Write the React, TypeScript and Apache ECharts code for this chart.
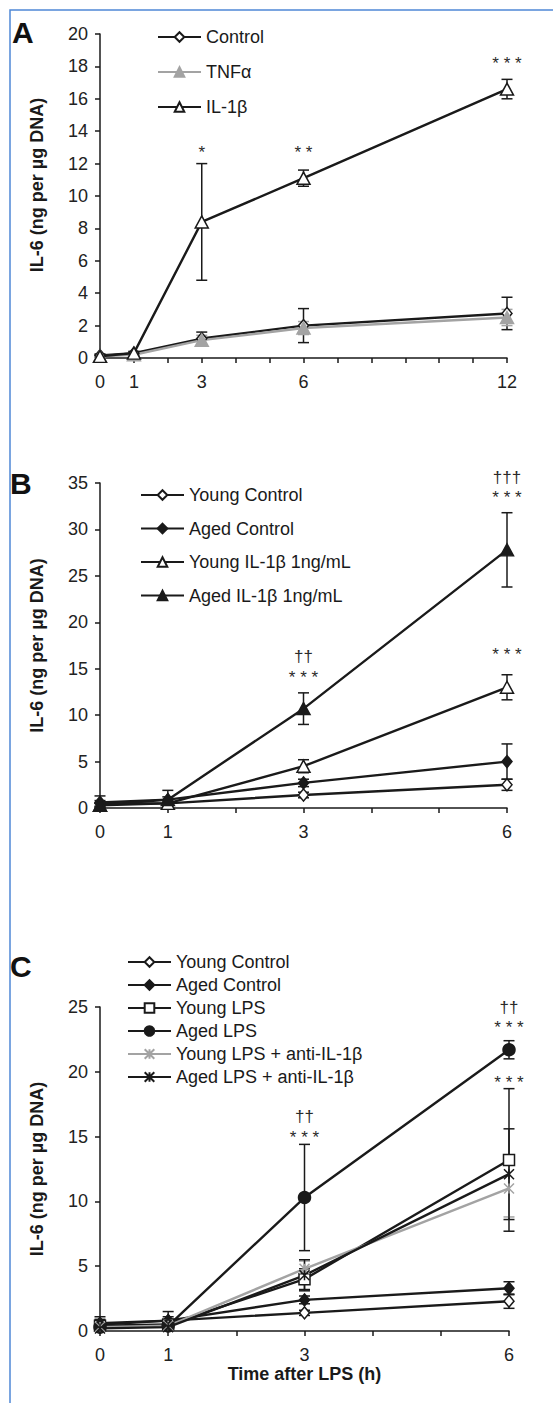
import React, { useEffect, useRef } from "react";
import * as echarts from "echarts";

// ---------- Data ----------
// Panel A
const hoursA = [0, 1, 3, 6, 12];
const labelsA = [0, 1, 3, 6, 12];
const controlA = [0.15, 0.3, 1.2, 2.0, 2.75];
const controlAErr = [0.1, 0.1, 0.4, 1.05, 1.0];
const tnfA = [0.1, 0.2, 1.1, 1.85, 2.5];
const tnfAErr = [0.05, 0.1, 0.3, 0.4, 0.5];
const il1bA = [0.1, 0.3, 8.4, 11.1, 16.6];
const il1bAErr = [0.1, 0.1, 3.6, 0.5, 0.6];
const annA = [
  { x: 3, y: 12.7, t: "*" },
  { x: 6, y: 12.7, t: "* *" },
  { x: 12, y: 18.2, t: "* * *" },
];

// Panel B
const hoursB = [0, 1, 3, 6];
const labelsB = [0, 1, 3, 6];
const youngCtrlB = [0.5, 0.5, 1.4, 2.5];
const youngCtrlBErr = [0.3, 0.2, 0.3, 0.6];
const agedCtrlB = [0.6, 0.9, 2.7, 5.0];
const agedCtrlBErr = [0.7, 1.0, 0.4, 1.9];
const youngIL1bB = [0.3, 0.5, 4.5, 13.0];
const youngIL1bBErr = [0.2, 0.3, 0.7, 1.35];
const agedIL1bB = [0.3, 0.9, 10.7, 27.8];
const agedIL1bBErr = [0.2, 0.3, 1.7, 4.0];
const annB = [
  { x: 3, y: 16.3, t: "††" },
  { x: 3, y: 14.1, t: "* * *" },
  { x: 6, y: 35.6, t: "†††" },
  { x: 6, y: 33.4, t: "* * *" },
  { x: 6, y: 16.5, t: "* * *" },
];

// Panel C
const hoursC = [0, 1, 3, 6];
const labelsC = [0, 1, 3, 6];
const youngCtrlC = [0.6, 0.8, 1.4, 2.3];
const youngCtrlCErr = [0.3, 0.3, 0.2, 0.55];
const agedCtrlC = [0.5, 0.8, 2.4, 3.3];
const agedCtrlCErr = [0.6, 0.7, 0.3, 0.5];
const youngLpsC = [0.4, 0.5, 4.0, 13.2];
const youngLpsCErr = [0.2, 0.2, 0.8, 5.5];
const agedLpsC = [0.3, 0.4, 10.3, 21.7];
const agedLpsCErr = [0.2, 0.3, 4.1, 0.7];
const youngAntiC = [0.3, 0.4, 4.8, 11.0];
const youngAntiCErr = [0.2, 0.2, 0.6, 2.2];
const agedAntiC = [0.2, 0.3, 4.3, 12.1];
const agedAntiCErr = [0.1, 0.2, 1.2, 3.5];
const annC = [
  { x: 3, y: 16.55, t: "††" },
  { x: 3, y: 14.95, t: "* * *" },
  { x: 6, y: 25.0, t: "††" },
  { x: 6, y: 23.4, t: "* * *" },
  { x: 6, y: 19.2, t: "* * *" },
];

// ---------- Styles ----------
const FONT = '"Liberation Sans", Arial, sans-serif';
const BLACK = "#1a1a1a";
const GRAY = "#a3a3a3";
const STAR = "path://M0,0L10,10M10,0L0,10M5,0L5,10";

type Mk = { symbol: string; size: number | number[]; fill: string; stroke: string; line: string };
const openDiamond: Mk = { symbol: "diamond", size: [10, 12], fill: "#fff", stroke: BLACK, line: BLACK };
const fillDiamond: Mk = { symbol: "diamond", size: [10, 12], fill: BLACK, stroke: BLACK, line: BLACK };
const openTri: Mk = { symbol: "triangle", size: [13, 12], fill: "#fff", stroke: BLACK, line: BLACK };
const fillTri: Mk = { symbol: "triangle", size: [13, 12], fill: BLACK, stroke: BLACK, line: BLACK };
const grayTri: Mk = { symbol: "triangle", size: [13, 12], fill: GRAY, stroke: GRAY, line: GRAY };
const openSquare: Mk = { symbol: "rect", size: [11, 11], fill: "#fff", stroke: BLACK, line: BLACK };
const fillCircle: Mk = { symbol: "circle", size: 12, fill: BLACK, stroke: BLACK, line: BLACK };
const grayStar: Mk = { symbol: STAR, size: 10, fill: GRAY, stroke: GRAY, line: GRAY };
const blackStar: Mk = { symbol: STAR, size: 10, fill: BLACK, stroke: BLACK, line: BLACK };

function lineSeries(name: string, idx: number, xs: number[], ys: number[], mk: Mk) {
  return {
    type: "line",
    name,
    xAxisIndex: idx,
    yAxisIndex: idx,
    data: xs.map((x, i) => [x, ys[i]]),
    symbol: mk.symbol,
    symbolSize: mk.size,
    showSymbol: true,
    z: 3,
    lineStyle: { color: mk.line, width: 2.4 },
    itemStyle: { color: mk.fill, borderColor: mk.stroke, borderWidth: 1.5 },
    emphasis: { disabled: true },
  };
}

function errSeries(idx: number, xs: number[], ys: number[], err: number[], color: string) {
  return {
    type: "custom",
    xAxisIndex: idx,
    yAxisIndex: idx,
    z: 2,
    silent: true,
    clip: false,
    encode: { x: 0, y: [1, 2] },
    data: xs.map((x, i) => [x, Math.max(0, ys[i] - err[i]), ys[i] + err[i]]),
    renderItem: (_p: any, api: any) => {
      const x = api.value(0);
      const lo = api.value(1);
      const hi = api.value(2);
      const a = api.coord([x, lo]);
      const b = api.coord([x, hi]);
      const w = 5.5;
      const st = { stroke: color, lineWidth: 1.5 };
      const children: any[] = [
        { type: "line", shape: { x1: a[0], y1: a[1], x2: b[0], y2: b[1] }, style: st },
        { type: "line", shape: { x1: b[0] - w, y1: b[1], x2: b[0] + w, y2: b[1] }, style: st },
      ];
      if (lo > 0) children.push({ type: "line", shape: { x1: a[0] - w, y1: a[1], x2: a[0] + w, y2: a[1] }, style: st });
      return { type: "group", children };
    },
  };
}

function annSeries(idx: number, ann: { x: number; y: number; t: string }[]) {
  return {
    type: "custom",
    xAxisIndex: idx,
    yAxisIndex: idx,
    z: 4,
    silent: true,
    clip: false,
    encode: { x: 0, y: 1 },
    data: ann.map((a) => [a.x, a.y]),
    renderItem: (p: any, api: any) => {
      const a = ann[p.dataIndex];
      const c = api.coord([a.x, a.y]);
      return {
        type: "text",
        x: c[0],
        y: c[1],
        style: {
          text: a.t,
          fill: "#2a2a2a",
          font: `17px ${FONT}`,
          align: "center",
          verticalAlign: "middle",
        },
      };
    },
  };
}

function xAxis(idx: number, max: number, labels: number[], name = "") {
  return {
    type: "value",
    gridIndex: idx,
    min: 0,
    max,
    interval: 1,
    name,
    nameLocation: "middle",
    nameGap: 28,
    nameTextStyle: { fontFamily: FONT, fontSize: 18, fontWeight: "bold", color: BLACK },
    axisLine: { lineStyle: { color: BLACK, width: 1.5 } },
    axisTick: { show: true, length: 5, lineStyle: { color: BLACK, width: 1.5 } },
    splitLine: { show: false },
    axisLabel: {
      margin: 15,
      fontFamily: FONT,
      fontSize: 18,
      color: "#222",
      formatter: (v: number) => (labels.indexOf(v) >= 0 ? String(v) : ""),
    },
  };
}

function yAxis(idx: number, max: number, interval: number, pad: number[]) {
  return {
    type: "value",
    gridIndex: idx,
    min: 0,
    max,
    interval,
    name: "IL-6 (ng per µg DNA)",
    nameLocation: "middle",
    nameGap: 54,
    nameTextStyle: { fontFamily: FONT, fontSize: 18, fontWeight: "bold", color: BLACK, padding: pad },
    axisLine: { show: true, lineStyle: { color: BLACK, width: 1.5 } },
    axisTick: { show: true, length: 5, lineStyle: { color: BLACK, width: 1.5 } },
    splitLine: { show: false },
    axisLabel: { margin: 12, fontFamily: FONT, fontSize: 18, color: "#222" },
  };
}

function legend(names: string[], left: number, top: number, gap: number) {
  return {
    orient: "vertical",
    left,
    top,
    data: names,
    itemWidth: 43,
    itemHeight: 12,
    itemGap: gap,
    selectedMode: false,
    padding: 0,
    formatter: (n: string) => n.split("|")[1],
    textStyle: { fontFamily: FONT, fontSize: 18, color: BLACK, lineHeight: 18 },
  };
}

export default function App() {
  const ref = useRef<HTMLDivElement>(null);
  useEffect(() => {
    if (!ref.current) return;
    const chart = echarts.init(ref.current, undefined, { renderer: "svg" });

    const sA = [
      { n: "A|Control", ys: controlA, e: controlAErr, mk: openDiamond },
      { n: "A|TNFα", ys: tnfA, e: tnfAErr, mk: grayTri },
      { n: "A|IL-1β", ys: il1bA, e: il1bAErr, mk: openTri },
    ];
    const sB = [
      { n: "B|Young Control", ys: youngCtrlB, e: youngCtrlBErr, mk: openDiamond },
      { n: "B|Aged Control", ys: agedCtrlB, e: agedCtrlBErr, mk: fillDiamond },
      { n: "B|Young IL-1β 1ng/mL", ys: youngIL1bB, e: youngIL1bBErr, mk: openTri },
      { n: "B|Aged IL-1β 1ng/mL", ys: agedIL1bB, e: agedIL1bBErr, mk: fillTri },
    ];
    const sC = [
      { n: "C|Young Control", ys: youngCtrlC, e: youngCtrlCErr, mk: openDiamond },
      { n: "C|Aged Control", ys: agedCtrlC, e: agedCtrlCErr, mk: fillDiamond },
      { n: "C|Young LPS", ys: youngLpsC, e: youngLpsCErr, mk: openSquare },
      { n: "C|Aged LPS", ys: agedLpsC, e: agedLpsCErr, mk: fillCircle },
      { n: "C|Young LPS + anti-IL-1β", ys: youngAntiC, e: youngAntiCErr, mk: grayStar },
      { n: "C|Aged LPS + anti-IL-1β", ys: agedAntiC, e: agedAntiCErr, mk: blackStar },
    ];

    const series: any[] = [];
    const add = (idx: number, xs: number[], list: any[]) => {
      list.forEach((s) => series.push(errSeries(idx, xs, s.ys, s.e, s.mk.stroke)));
      list.forEach((s) => series.push(lineSeries(s.n, idx, xs, s.ys, s.mk)));
    };
    add(0, hoursA, sA);
    add(1, hoursB, sB);
    add(2, hoursC, sC);
    series.push(annSeries(0, annA));
    series.push(annSeries(1, annB));
    series.push(annSeries(2, annC));

    chart.setOption({
      animation: false,
      backgroundColor: "#fff",
      grid: [
        { left: 100, top: 34, width: 407, height: 324 },
        { left: 100, top: 483, width: 407, height: 325 },
        { left: 100, top: 1007, width: 409, height: 324 },
      ],
      xAxis: [
        xAxis(0, 12, labelsA),
        xAxis(1, 6, labelsB),
        xAxis(2, 6, labelsC, "Time after LPS (h)"),
      ],
      yAxis: [yAxis(0, 20, 2, [0, 0, 0, 22]), yAxis(1, 35, 5, [0, 0, 0, 0]), yAxis(2, 25, 5, [0, 0, 0, 0])],
      legend: [
        legend(sA.map((s) => s.n), 157, 28, 17),
        legend(sB.map((s) => s.n), 140, 486, 15.5),
        legend(sC.map((s) => s.n), 127, 953, 5),
      ],
      graphic: [
        {
          type: "rect",
          shape: { x: 10, y: 10, width: 700, height: 1600 },
          style: { fill: "none", stroke: "#4f88d6", lineWidth: 1.5 },
          silent: true,
        },
        { type: "text", left: 12, top: 17, style: { text: "A", font: `bold 30px ${FONT}`, fill: "#111" } },
        { type: "text", left: 10, top: 468, style: { text: "B", font: `bold 30px ${FONT}`, fill: "#111" } },
        { type: "text", left: 10, top: 951, style: { text: "C", font: `bold 30px ${FONT}`, fill: "#111" } },
      ],
      series,
    });
    return () => chart.dispose();
  }, []);
  return (
    <div
      ref={ref}
      style={{ position: "absolute", left: 0, top: 0, width: 553, height: 1403, background: "#fff" }}
    />
  );
}
